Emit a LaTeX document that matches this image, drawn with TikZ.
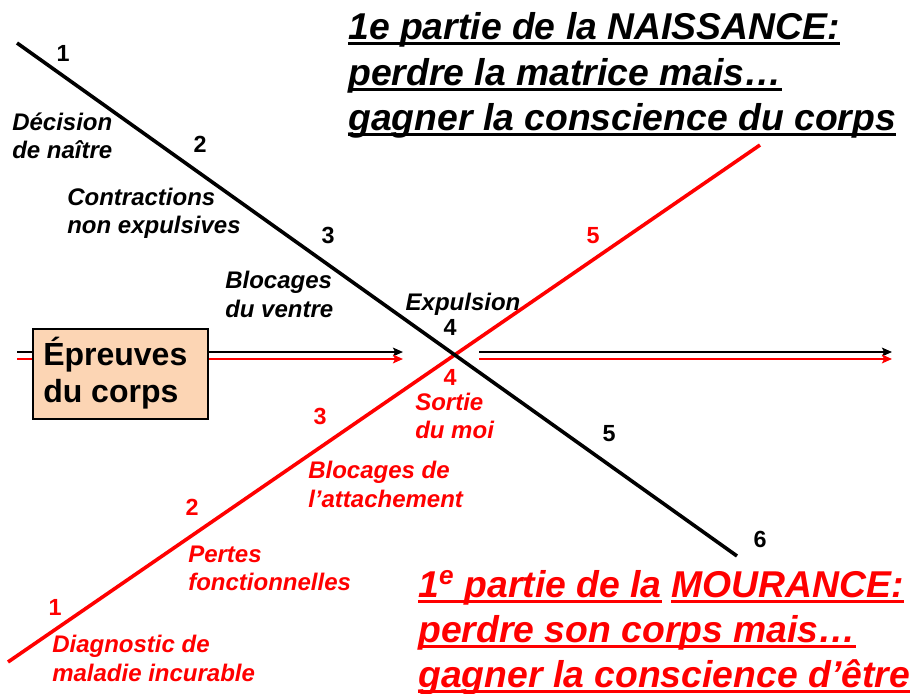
\documentclass[tikz,border=0pt]{standalone}
\usepackage{fontspec}
\setmainfont{Liberation Sans}
\usetikzlibrary{arrows.meta}
\definecolor{peach}{HTML}{FCD5B4}
\definecolor{rred}{HTML}{FF0000}
\begin{document}
\begin{tikzpicture}[x=0.75pt,y=-0.75pt,
  lab/.style={inner sep=0pt, anchor=base west, font=\fontsize{18}{21}\selectfont\bfseries\itshape},
  num/.style={inner sep=0pt, anchor=base, font=\fontsize{17.5}{20}\selectfont\bfseries},
  ttl/.style={inner sep=0pt, anchor=base west, font=\fontsize{28}{34}\selectfont\bfseries\itshape},
  boxtxt/.style={inner sep=0pt, anchor=base west, font=\fontsize{24}{28}\selectfont\bfseries},
  uline/.style={line width=2.3pt},
  arr/.style={line width=2.1pt, -{Stealth[length=7.5pt,width=6.5pt,inset=1.5pt]}},
  diag/.style={line width=2.7pt},
]
\path[use as bounding box, fill=white] (0,0) rectangle (916,693);

% diagonal lines
\coordinate (rs) at (8,662);
\coordinate (re) at (760,145);
\coordinate (bs) at (17,43);
\coordinate (be) at (737,556);
\draw[diag, rred] (rs) -- (re);
\draw[diag, black] (bs) -- (be);

% horizontal double arrows
\coordinate (lkA) at (17,352);  \coordinate (lkB) at (403,352);
\coordinate (lrA) at (17,359);  \coordinate (lrB) at (403,359);
\coordinate (rkA) at (479,352); \coordinate (rkB) at (892,352);
\coordinate (rrA) at (479,359); \coordinate (rrB) at (892,359);
\draw[arr, black] (lkA) -- (lkB);
\draw[arr, rred] (lrA) -- (lrB);
\draw[arr, black] (rkA) -- (rkB);
\draw[arr, rred] (rrA) -- (rrB);

% box
\node (box) [draw, line width=1.5pt, fill=peach, inner sep=0pt, anchor=north west,
  minimum width=131.25pt, minimum height=67.5pt] at (32,328) {};
\node (ep1) [boxtxt] at (43,365) {Épreuves};
\node (ep2) [boxtxt] at (43,402) {du corps};

% black numbers and labels
\node (n1) [num] at (63,61) {1};
\node (n2) [num] at (200,152) {2};
\node (n3) [num] at (328,243) {3};
\node (n4) [num] at (450,335) {4};
\node (n5) [num] at (609,441) {5};
\node (n6) [num] at (760,547) {6};
\node (d1) [lab] at (12,130) {Décision};
\node (d2) [lab] at (12,158) {de naître};
\node (c1) [lab] at (67,205) {Contractions};
\node (c2) [lab] at (67,233) {non expulsives};
\node (v1) [lab] at (225,288) {Blocages};
\node (v2) [lab] at (225,317) {du ventre};
\node (ex) [lab, anchor=base] at (463,310) {Expulsion};

% red numbers and labels
\node (r1) [num, rred] at (55,615) {1};
\node (r2) [num, rred] at (192,515) {2};
\node (r3) [num, rred] at (320,424) {3};
\node (r4) [num, rred] at (450,385) {4};
\node (r5) [num, rred] at (593,243) {5};
\node (so1) [lab, rred] at (415,410) {Sortie};
\node (so2) [lab, rred] at (415,438) {du moi};
\node (ba1) [lab, rred] at (308,478) {Blocages de};
\node (ba2) [lab, rred] at (308,507) {l’attachement};
\node (pf1) [lab, rred] at (188,562) {Pertes};
\node (pf2) [lab, rred] at (188,590) {fonctionnelles};
\node (dg1) [lab, rred] at (52,652) {Diagnostic de};
\node (dg2) [lab, rred] at (52,681) {maladie incurable};

% top title
\node (t1) [ttl] at (348,39) {1e partie de la NAISSANCE:};
\node (t2) [ttl] at (348,85) {perdre la matrice mais…};
\node (t3) [ttl] at (348,130) {gagner la conscience du corps};
\foreach \n in {t1,t2,t3}
  \draw[uline] ([yshift=-3.4pt]\n.base west) -- ([yshift=-3.4pt]\n.base east);

% bottom title
\node (m1a) [ttl, rred] at (418,597) {1\textsuperscript{e} partie de la};
\node (m1b) [ttl, rred, anchor=base west] at ([xshift=6.8pt]m1a.base east) {MOURANCE:};
\node (m2) [ttl, rred] at (418,642) {perdre son corps mais…};
\node (m3) [ttl, rred] at (418,687) {gagner la conscience d’être};
\foreach \n in {m1a,m1b,m2,m3}
  \draw[uline, rred] ([yshift=-3.7pt]\n.base west) -- ([yshift=-3.7pt]\n.base east);
\end{tikzpicture}
\end{document}
